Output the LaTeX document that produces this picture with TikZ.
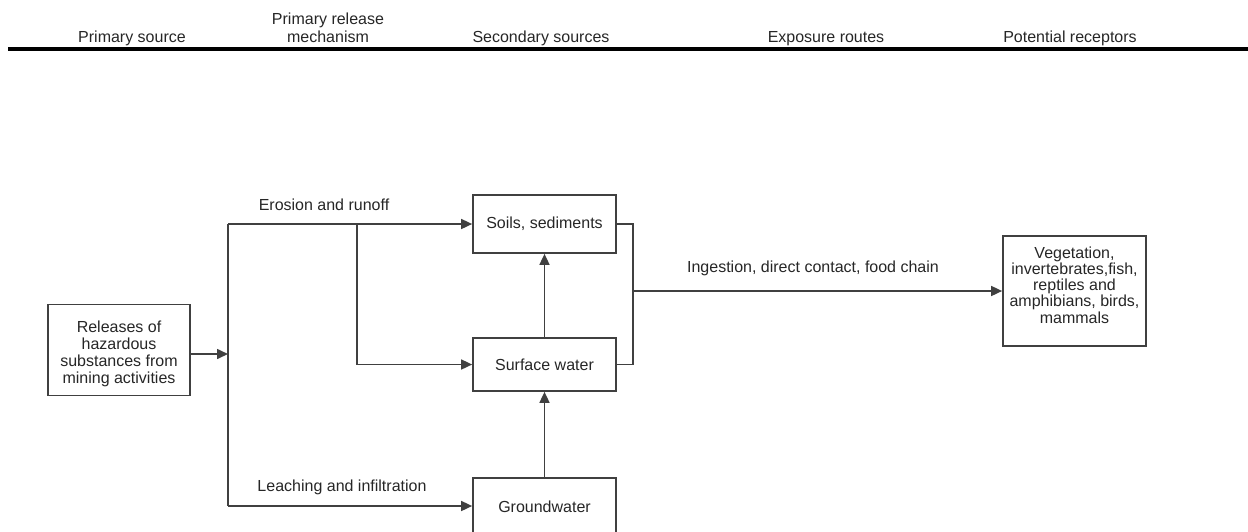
\documentclass[tikz,border=0pt]{standalone}
\usepackage{fontspec}
\setmainfont{Liberation Sans}
\usetikzlibrary{arrows.meta}
\begin{document}
\begin{tikzpicture}[x=1pt,y=-1pt,
  every node/.style={font=\fontsize{16}{17}\selectfont, text=black!85, inner sep=0pt},
  boxnode/.style={draw=black!75, line width=1.7pt, minimum width=143pt, align=center},
  conn/.style={draw=black!75, line width=1.6pt},
  arr/.style={conn, -{Triangle[length=11pt,width=10pt]}},
  hdr/.style={align=center, font=\fontsize{16}{18}\selectfont}]
\clip (0,0) rectangle (1248,531);
% header
\node[hdr, anchor=base] (h1) at (132,42) {Primary source};
\node[hdr] (h2) at (328,28) {Primary release\\mechanism};
\node[hdr, anchor=base] (h3) at (541,42) {Secondary sources};
\node[hdr, anchor=base] (h4) at (826,42) {Exposure routes};
\node[hdr, anchor=base] (h5) at (1070,42) {Potential receptors};
\coordinate (hl) at (8,49);
\coordinate (hr) at (1248,49);
\draw[line width=4.5pt, black] (hl) -- (hr);
% boxes
\node[boxnode, minimum width=142pt, minimum height=91pt, font=\fontsize{16}{17}\selectfont] (src) at (119,350)
  {\mbox{}\\[2pt]Releases of\\hazardous\\substances from\\mining activities};
\node[boxnode, minimum height=58pt] (soils) at (544.5,224) {Soils, sediments};
\node[boxnode, minimum height=53pt] (surf) at (544.5,364.5) {Surface water};
\node[boxnode, minimum height=58pt] (ground) at (544.5,507) {Groundwater};
\node[boxnode, minimum height=110pt, font=\fontsize{16}{16.2}\selectfont] (rec) at (1074.5,291)
  {Vegetation,\\invertebrates,fish,\\reptiles and\\amphibians, birds,\\mammals\\[-4pt]\mbox{}};
% junctions
\coordinate (j1) at (228,354);
\coordinate (jt) at (228,224);
\coordinate (jb) at (228,506);
\coordinate (br) at (357,224);
\coordinate (rb) at (633,291);
% connectors
\draw[arr] (src.east |- j1) -- (j1);
\draw[conn] (jt) -- (jb);
\draw[arr] (jt) -- (soils.west);
\draw[arr] (br) |- (surf.west);
\draw[arr] (jb) -- (ground.west |- jb);
\draw[arr] (surf.north) -- (soils.south);
\draw[arr] (ground.north) -- (surf.south);
\draw[conn] (soils.east) -| (rb) |- (surf.east);
\draw[arr] (rb) -- (rec.west);
% labels
\node (l1) at (324,205) {Erosion and runoff};
\node (l2) at (342,487) {Leaching and infiltration};
\node (l3) at (813,268) {Ingestion, direct contact, food chain};
\end{tikzpicture}
\end{document}
